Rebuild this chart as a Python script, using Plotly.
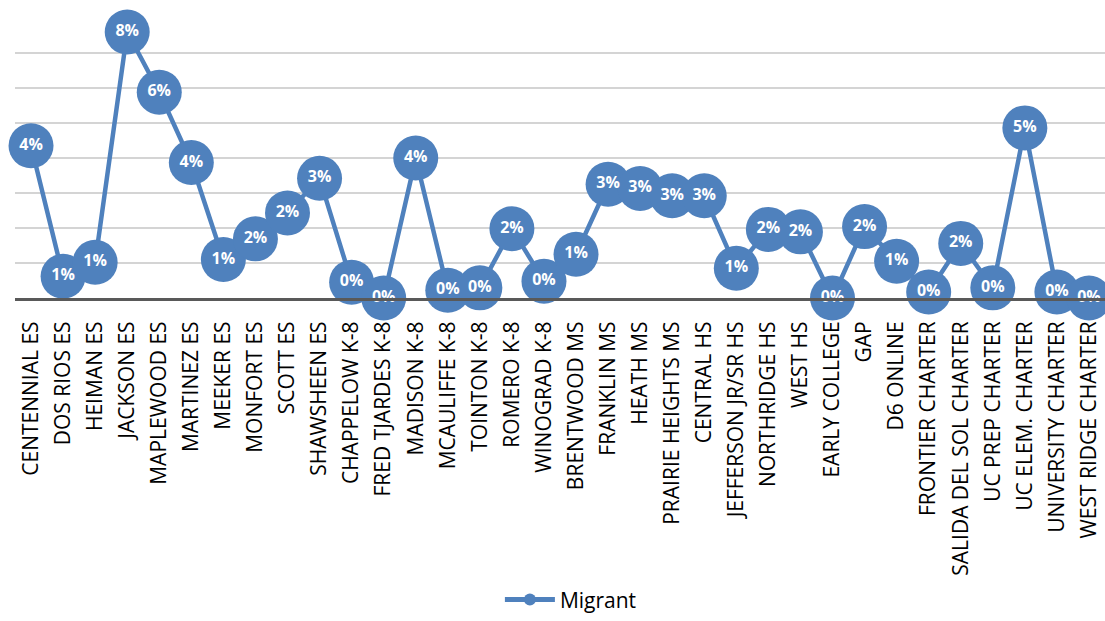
import plotly.graph_objects as go

# School names along the x axis
schools = [
    "CENTENNIAL ES", "DOS RIOS ES", "HEIMAN ES", "JACKSON ES", "MAPLEWOOD ES",
    "MARTINEZ ES", "MEEKER ES", "MONFORT ES", "SCOTT ES", "SHAWSHEEN ES",
    "CHAPPELOW K-8", "FRED TJARDES K-8", "MADISON K-8", "MCAULIFFE K-8",
    "TOINTON K-8", "ROMERO K-8", "WINOGRAD K-8", "BRENTWOOD MS", "FRANKLIN MS",
    "HEATH MS", "PRAIRIE HEIGHTS MS", "CENTRAL HS", "JEFFERSON JR/SR HS",
    "NORTHRIDGE HS", "WEST HS", "EARLY COLLEGE", "GAP", "D6 ONLINE",
    "FRONTIER CHARTER", "SALIDA DEL SOL CHARTER", "UC PREP CHARTER",
    "UC ELEM. CHARTER", "UNIVERSITY CHARTER", "WEST RIDGE CHARTER",
]

# Share of migrant students per school
migrant = [
    0.0435, 0.0062, 0.0102, 0.0760, 0.0588,
    0.0387, 0.0110, 0.0169, 0.0243, 0.0342,
    0.0045, 0.0000, 0.0400, 0.0022,
    0.0029, 0.0198, 0.0048, 0.0125, 0.0325,
    0.0313, 0.0292, 0.0292, 0.0085,
    0.0196, 0.0189, 0.0000, 0.0204, 0.0105,
    0.0017, 0.0156, 0.0029,
    0.0486, 0.0017, 0.0000,
]

labels = [f"{v:.0%}" for v in migrant]
x_idx = list(range(len(schools)))

BLUE = "#4f81bd"
FONT = "Open Sans"

fig = go.Figure()

fig.add_trace(go.Scatter(
    x=x_idx, y=migrant,
    mode="lines+markers",
    name="Migrant",
    line=dict(color=BLUE, width=4.5),
    marker=dict(color=BLUE, size=45, line=dict(width=0)),
    cliponaxis=False,
))

fig.add_trace(go.Scatter(
    x=x_idx, y=migrant,
    mode="text",
    text=labels,
    textposition="middle center",
    textfont=dict(family=FONT, size=16, color="white", weight="bold"),
    showlegend=False,
    hoverinfo="skip",
    cliponaxis=False,
))

fig.update_layout(
    width=1105, height=621,
    margin=dict(l=15, r=0, t=18, b=320),
    paper_bgcolor="white",
    plot_bgcolor="white",
    font=dict(family=FONT, color="black"),
    showlegend=True,
    legend=dict(
        orientation="h",
        x=0.51, xanchor="center",
        y=-1.078, yanchor="middle",
        font=dict(family=FONT, size=21, color="black"),
        itemsizing="constant",
        itemwidth=50,
    ),
    xaxis=dict(
        range=[-0.5, len(schools) - 0.5],
        tickmode="array",
        tickvals=x_idx,
        ticktext=schools,
        tickangle=-90,
        tickfont=dict(family=FONT, size=21, color="black"),
        ticks="",
        ticklabelstandoff=12,
        showgrid=False,
        showline=True,
        linecolor="#595959",
        linewidth=3,
        zeroline=False,
        automargin=False,
    ),
    yaxis=dict(
        range=[0, 0.08],
        dtick=0.01,
        showticklabels=False,
        showgrid=True,
        gridcolor="#d4d4d4",
        gridwidth=2,
        zeroline=False,
        showline=False,
        automargin=False,
    ),
)

fig.write_html("out.html")
